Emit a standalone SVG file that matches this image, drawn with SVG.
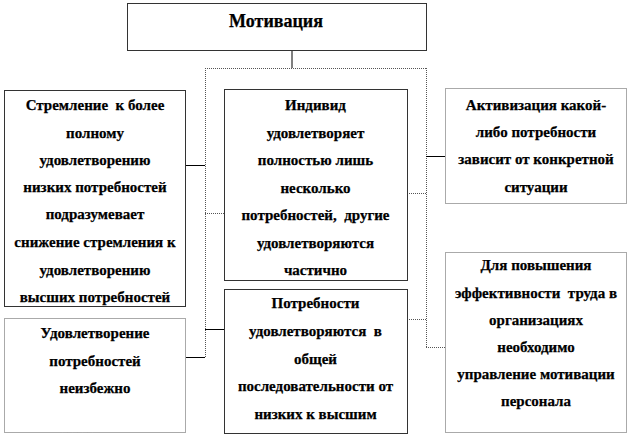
<svg xmlns="http://www.w3.org/2000/svg" width="630" height="437" viewBox="0 0 630 437">
<style>
.box{fill:#fff;stroke:#333;stroke-width:1}
.dot{fill:#fff;stroke:#555;stroke-width:1;stroke-dasharray:1,1}
.ln{stroke:#000;stroke-width:1;fill:none}
.dl{stroke:#555;stroke-width:1;fill:none;stroke-dasharray:1,1}
text{font-weight:bold;font-size:15px;text-anchor:middle;fill:#000;stroke:#000;stroke-width:0.25;white-space:pre}
.t{font-size:18px}
</style>
<rect width="630" height="437" fill="#fff"/>
<g id="connectors">
<line class="ln" x1="292" y1="51" x2="292" y2="68"/>
<line class="dl" x1="205" y1="68.5" x2="427" y2="68.5"/>
<line class="dl" x1="205.5" y1="68" x2="205.5" y2="358"/>
<line class="dl" x1="426.5" y1="68" x2="426.5" y2="348"/>
<line class="ln" x1="186" y1="165.5" x2="205" y2="165.5"/>
<line class="dl" x1="205" y1="213.5" x2="224" y2="213.5"/>
<line class="ln" x1="205" y1="329.5" x2="224" y2="329.5"/>
<line class="ln" x1="186" y1="357.5" x2="205" y2="357.5"/>
<line class="ln" x1="426" y1="156.5" x2="445" y2="156.5"/>
<line class="dl" x1="407" y1="193.5" x2="426" y2="193.5"/>
<line class="dl" x1="407" y1="319.5" x2="426" y2="319.5"/>
<line class="dl" x1="426" y1="347.5" x2="445" y2="347.5"/>
</g>
<g font-family="'Liberation Serif', 'DejaVu Serif', serif">
<g id="motivation">
<rect class="box" x="127.5" y="3.5" width="299" height="47"/>
<text class="t" x="276" y="27">Мотивация</text>
</g>
<g id="n1">
<rect class="box" x="4.5" y="90.5" width="181" height="216"/>
<text x="95" y="110">Стремление  к более</text>
<text x="95" y="137.5">полному</text>
<text x="95" y="165">удовлетворению</text>
<text x="95" y="192">низких потребностей</text>
<text x="95" y="219">подразумевает</text>
<text x="95" y="247">снижение стремления к</text>
<text x="95" y="274.5">удовлетворению</text>
<text x="95" y="302">высших потребностей</text>
</g>
<g id="n2">
<rect class="box" x="224.5" y="89.5" width="183" height="191"/>
<text x="315.5" y="110">Индивид</text>
<text x="315.5" y="137.5">удовлетворяет</text>
<text x="315.5" y="165">полностью лишь</text>
<text x="315.5" y="192.5">несколько</text>
<text x="315.5" y="220">потребностей,  другие</text>
<text x="315.5" y="247.5">удовлетворяются</text>
<text x="315.5" y="275">частично</text>
</g>
<g id="n3">
<rect class="box" x="224.5" y="289.5" width="183" height="144"/>
<text x="315.5" y="308">Потребности</text>
<text x="315.5" y="336">удовлетворяются  в</text>
<text x="315.5" y="363.5">общей</text>
<text x="315.5" y="391">последовательности от</text>
<text x="315.5" y="419">низких к высшим</text>
</g>
<g id="n4">
<rect class="dot" x="445.5" y="88.5" width="181" height="115"/>
<text x="536" y="110">Активизация какой-</text>
<text x="536" y="137">либо потребности</text>
<text x="536" y="164">зависит от конкретной</text>
<text x="536" y="191.5">ситуации</text>
</g>
<g id="n5">
<rect class="dot" x="4.5" y="318.5" width="181" height="114"/>
<text x="95" y="338">Удовлетворение</text>
<text x="95" y="366">потребностей</text>
<text x="95" y="393">неизбежно</text>
</g>
<g id="n6">
<rect class="dot" x="445.5" y="252.5" width="181" height="180"/>
<text x="536" y="270">Для повышения</text>
<text x="536" y="297.5">эффективности  труда в</text>
<text x="536" y="325">организациях</text>
<text x="536" y="352">необходимо</text>
<text x="536" y="379">управление мотивации</text>
<text x="536" y="406">персонала</text>
</g>
</g>
</svg>
